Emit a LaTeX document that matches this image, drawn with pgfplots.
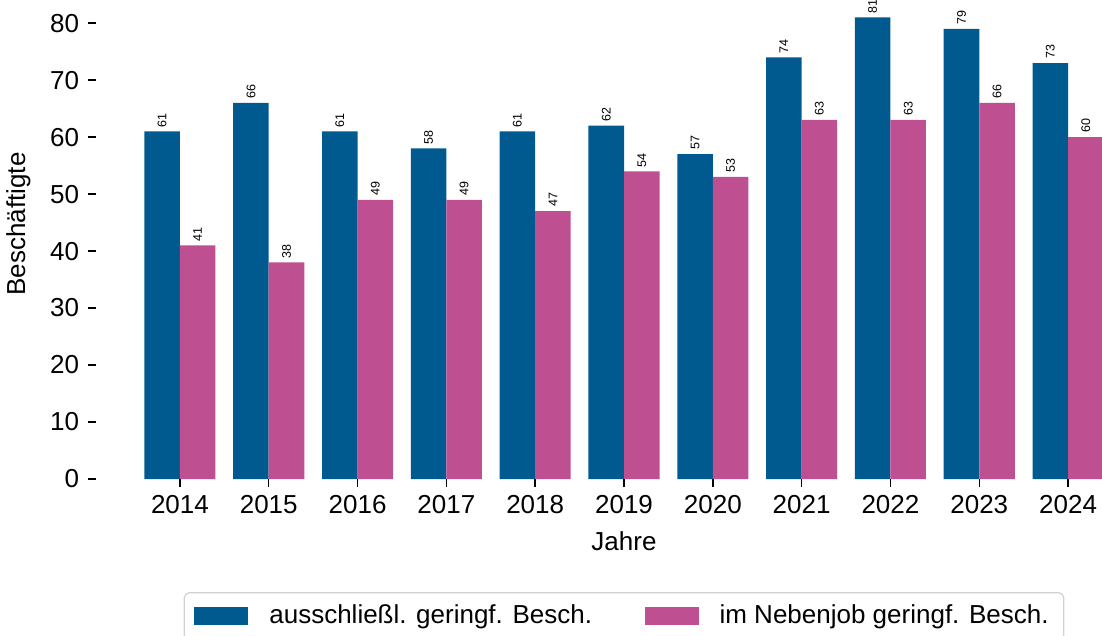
\documentclass[border=0pt]{standalone}
\usepackage{fontspec}
\setmainfont{Liberation Sans}
\usepackage{pgfplots}
\pgfplotsset{compat=1.18}
\definecolor{gbblue}{RGB}{0,90,144}
\definecolor{gbpink}{RGB}{190,80,145}

\begin{document}
\begin{tikzpicture}
\begin{axis}[
  name=ax, scale only axis, width=422.4pt, height=204pt,
  xmin=-0.945, xmax=10.945, ymin=0, ymax=89.5,
  ybar=0pt, bar width=0.4,
  axis line style={draw=none},
  tick align=outside, xtick pos=bottom, ytick pos=left,
  major tick length=3.2pt, tick style={black, line width=0.6pt},
  xtick={0,1,2,3,4,5,6,7,8,9,10},
  xticklabels={2014,2015,2016,2017,2018,2019,2020,2021,2022,2023,2024},
  ytick={0,10,20,30,40,50,60,70,80},
  tick label style={font=\fontsize{10.4}{12}\selectfont},
  /pgf/number format/assume math mode=true,
  xlabel={Jahre}, ylabel={Beschäftigte},
  label style={font=\fontsize{10.4}{12}\selectfont},
  ylabel style={xshift=0pt, yshift=1pt},
  nodes near coords,
  nodes near coords style={rotate=90, anchor=west, font=\fontsize{5}{6}\selectfont, inner sep=1.5pt, black},
  legend columns=2,
  legend style={at={(0.5,-0.2216)}, anchor=north, draw=gray!35, line width=0.5pt,
    rounded corners=2pt, font=\fontsize{10.4}{12}\selectfont,
    inner xsep=4pt, inner ysep=3pt,
    /tikz/every even column/.append style={column sep=19pt}},
  legend image code/.code={%
    \fill[#1, draw=none, sharp corners] (0pt,-3.6pt) rectangle (21.6pt,3.6pt);
    \path (28pt,0pt);},
]
\addplot[fill=gbblue, draw=none, bar shift=-0.2] coordinates
  {(0,61) (1,66) (2,61) (3,58) (4,61) (5,62) (6,57) (7,74) (8,81) (9,79) (10,73)};
\addplot[fill=gbpink, draw=none, bar shift=0.2] coordinates
  {(0,41) (1,38) (2,49) (3,49) (4,47) (5,54) (6,53) (7,63) (8,63) (9,66) (10,60)};
\legend{ausschließl. geringf. Besch., im Nebenjob geringf. Besch.}
\end{axis}
\pgfresetboundingbox
\path[use as bounding box] ([xshift=-38.4pt,yshift=-62.4pt]ax.south west) rectangle ([xshift=-20pt,yshift=-12.4pt]ax.north east);
\end{tikzpicture}
\end{document}
